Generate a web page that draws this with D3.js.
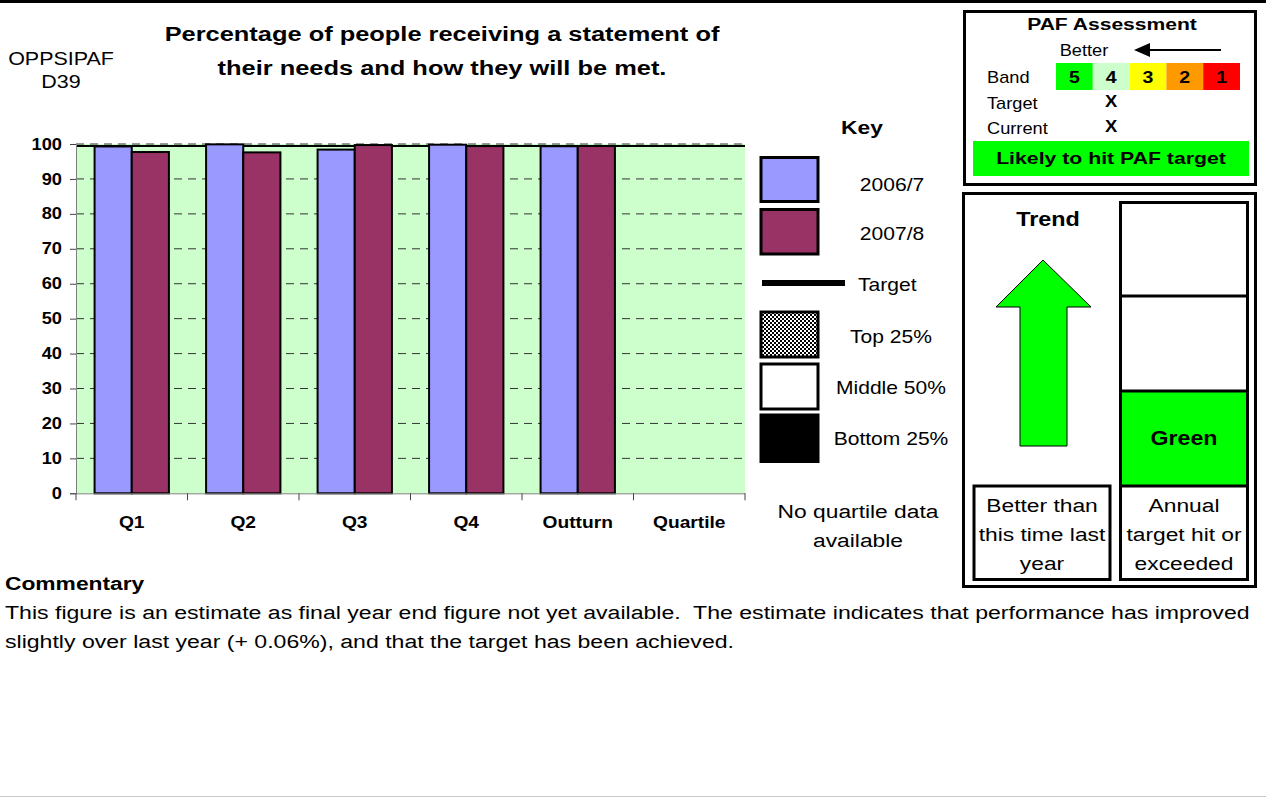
<!DOCTYPE html>
<html><head><meta charset="utf-8">
<script src="https://cdn.jsdelivr.net/npm/d3@7"></script>
<style>
body{margin:0;background:#fff;}
svg{display:block;font-family:"Liberation Sans",Arial,Helvetica,sans-serif;}
</style></head>
<body>
<svg id="c" width="1266" height="798"></svg>
<script>
const categories = ["Q1","Q2","Q3","Q4","Outturn","Quartile"];
const series = ["2006/7","2007/8"];
const values2006 = [99.3, 99.9, 98.4, 99.8, 99.36, null];
const values2007 = [97.7, 97.6, 99.7, 99.4, 99.42, null];
const targetValue = 99.4;
const yTicks = [0,10,20,30,40,50,60,70,80,90,100];
const seriesColors = ["#9999ff","#993366"];
const bandLabels = ["5","4","3","2","1"];
const bandColors = ["#00ff00","#ccffcc","#ffff00","#ff9900","#ff0000"];
const targetBand = "4";
const currentBand = "4";
const keyItems = ["2006/7","2007/8","Target","Top 25%","Middle 50%","Bottom 25%"];

const svg = d3.select("#c");
const defs = svg.append("defs");
const pat = defs.append("pattern").attr("id","checker").attr("width",4).attr("height",4).attr("patternUnits","userSpaceOnUse");
pat.append("rect").attr("width",4).attr("height",4).attr("fill","#fff");
pat.append("rect").attr("width",2).attr("height",2).attr("fill","#000");
pat.append("rect").attr("x",2).attr("y",2).attr("width",2).attr("height",2).attr("fill","#000");

// text helper: horizontally widened text anchored at (x,y)
function T(x, y, str, o={}){
  return svg.append("text")
    .attr("transform",`translate(${x},${y}) scale(${o.sx||1.2},1)`)
    .attr("text-anchor",o.anchor||"start")
    .attr("font-size",o.size||19)
    .attr("font-weight",o.bold?"bold":"normal")
    .attr("fill","#000")
    .text(str);
}

// page borders
svg.append("rect").attr("x",0).attr("y",0).attr("width",1266).attr("height",3).attr("fill","#000");
svg.append("line").attr("x1",0).attr("x2",1266).attr("y1",796.5).attr("y2",796.5).attr("stroke","#c8c8c8");

// titles
T(442,41,"Percentage of people receiving a statement of",{anchor:"middle",bold:true,size:20,sx:1.27});
T(442,75,"their needs and how they will be met.",{anchor:"middle",bold:true,size:20,sx:1.27});
T(61,65,"OPPSIPAF",{anchor:"middle",size:19,sx:1.13});
T(61,88,"D39",{anchor:"middle",size:19,sx:1.13});

// chart
const L=76, R=745, Tp=144, B=493.3;
const x0 = d3.scaleBand().domain(categories).range([L,R]).padding(0);
const x1 = d3.scaleBand().domain(series).range([0,x0.bandwidth()]).paddingInner(0).paddingOuter(0.5);
const y = d3.scaleLinear().domain([0,100]).range([B,Tp]);

svg.append("rect").attr("x",L).attr("y",Tp).attr("width",R-L).attr("height",B-Tp).attr("fill","#ccffcc");
svg.append("g").selectAll("line").data(yTicks.filter(d=>d>0)).join("line")
  .attr("x1",L).attr("x2",R).attr("y1",d=>y(d)).attr("y2",d=>y(d))
  .attr("stroke","#333").attr("stroke-width",1).attr("stroke-dasharray","8,6");
svg.append("line").attr("x1",L).attr("x2",R).attr("y1",y(targetValue)).attr("y2",y(targetValue))
  .attr("stroke","#000").attr("stroke-width",2);

const data = categories.map((c,i)=>({c, vals:[values2006[i],values2007[i]]}));
const g = svg.append("g");
data.forEach(d=>{
  d.vals.forEach((v,j)=>{
    if(v==null) return;
    g.append("rect").attr("x",x0(d.c)+x1(series[j])).attr("y",y(v))
      .attr("width",x1.bandwidth()).attr("height",y(0)-y(v))
      .attr("fill",seriesColors[j]).attr("stroke","#000").attr("stroke-width",2);
  });
});

const yAxis = svg.append("g").attr("transform",`translate(${L},0)`)
  .call(d3.axisLeft(y).tickValues(yTicks).tickSize(6).tickPadding(8));
yAxis.selectAll("text").attr("font-size",16).attr("font-weight","bold").attr("fill","#000")
  .attr("x",-14/1.14).attr("transform","scale(1.14,1)");
yAxis.selectAll("line").attr("stroke","#444");
yAxis.select(".domain").attr("stroke","#808080");

const xAxis = svg.append("g").attr("transform",`translate(0,${B})`)
  .call(d3.axisBottom(x0).tickSize(0).tickPadding(23));
xAxis.selectAll("text").attr("font-size",16).attr("font-weight","bold").attr("fill","#000").attr("transform","scale(1.2,1)");
xAxis.select(".domain").attr("stroke","#808080");
svg.append("g").selectAll("line").data(d3.range(categories.length+1)).join("line")
  .attr("x1",i=>L+i*x0.step()).attr("x2",i=>L+i*x0.step())
  .attr("y1",B).attr("y2",B+7).attr("stroke","#444");

// key
T(862,134,"Key",{anchor:"middle",bold:true,size:19});
const keyBoxes = [
  {y:157.5,h:44,fill:seriesColors[0]},
  {y:209.5,h:44.5,fill:seriesColors[1]},
  null,
  {y:312,h:45,fill:"url(#checker)"},
  {y:364,h:45,fill:"#fff"},
  {y:415,h:46.5,fill:"#000"}
];
keyBoxes.forEach(k=>{
  if(!k) return;
  svg.append("rect").attr("x",761).attr("y",k.y).attr("width",57).attr("height",k.h)
    .attr("fill",k.fill).attr("stroke","#000").attr("stroke-width",3);
});
svg.append("rect").attr("x",762).attr("y",280).attr("width",83).attr("height",6).attr("fill","#000");
const keyLabelPos = [[892,191,"middle"],[892,240,"middle"],[858,291,"start"],[891,343,"middle"],[891,394,"middle"],[891,445,"middle"]];
keyItems.forEach((t,i)=>T(keyLabelPos[i][0],keyLabelPos[i][1],t,{anchor:keyLabelPos[i][2],size:18,sx:1.17}));
T(858,518,"No quartile data",{anchor:"middle",size:19});
T(858,547,"available",{anchor:"middle",size:19});

// PAF box
svg.append("rect").attr("x",964.5).attr("y",11.5).attr("width",291).attr("height",173).attr("fill","#fff").attr("stroke","#000").attr("stroke-width",3);
T(1112,30,"PAF Assessment",{anchor:"middle",bold:true,size:17,sx:1.24});
T(1084,56,"Better",{anchor:"middle",size:16,sx:1.14});
svg.append("line").attr("x1",1146).attr("x2",1221).attr("y1",50).attr("y2",50).attr("stroke","#000").attr("stroke-width",2);
svg.append("path").attr("d","M1134,50 L1150,43 L1150,57 Z").attr("fill","#000");
T(987,83,"Band",{size:16,sx:1.14});
T(987,109,"Target",{size:16,sx:1.14});
T(987,134,"Current",{size:16,sx:1.14});
const bx = d3.scaleBand().domain(bandLabels).range([1056,1240]);
svg.append("g").selectAll("rect").data(bandLabels).join("rect")
  .attr("x",d=>bx(d)).attr("y",63).attr("width",bx.bandwidth()).attr("height",27).attr("fill",(d,i)=>bandColors[i]);
bandLabels.forEach(d=>T(bx(d)+bx.bandwidth()/2,83,d,{anchor:"middle",bold:true,size:17,sx:1.15}));
T(bx(targetBand)+bx.bandwidth()/2,107,"X",{anchor:"middle",bold:true,size:16,sx:1.15});
T(bx(currentBand)+bx.bandwidth()/2,132,"X",{anchor:"middle",bold:true,size:16,sx:1.15});
svg.append("rect").attr("x",973).attr("y",141).attr("width",276).attr("height",35).attr("fill","#00ff00");
T(1111,164,"Likely to hit PAF target",{anchor:"middle",bold:true,size:17,sx:1.25});

// Trend box
svg.append("rect").attr("x",963.5).attr("y",193.5).attr("width",292).attr("height",393).attr("fill","#fff").attr("stroke","#000").attr("stroke-width",3);
T(1048,226,"Trend",{anchor:"middle",bold:true,size:20,sx:1.17});
svg.append("path").attr("d","M1043,260 L1091,307 L1067,307 L1067,446 L1020,446 L1020,307 L996,307 Z")
  .attr("fill","#00ff00").attr("stroke","#000").attr("stroke-width",1);
svg.append("rect").attr("x",1120.5).attr("y",391).attr("width",127).attr("height",95).attr("fill","#00ff00");
svg.append("rect").attr("x",1120.5).attr("y",202.5).attr("width",127).attr("height",377).attr("fill","none").attr("stroke","#000").attr("stroke-width",3);
[296,391,486].forEach(yy=>svg.append("line").attr("x1",1120).attr("x2",1248).attr("y1",yy).attr("y2",yy).attr("stroke","#000").attr("stroke-width",3));
svg.append("rect").attr("x",974).attr("y",486).attr("width",136).attr("height",93.5).attr("fill","none").attr("stroke","#000").attr("stroke-width",3);
T(1184,445,"Green",{anchor:"middle",bold:true,size:20,sx:1.16});
["Better than","this time last","year"].forEach((s,i)=>T(1042,512+i*29,s,{anchor:"middle",size:19}));
["Annual","target hit or","exceeded"].forEach((s,i)=>T(1184,512+i*29,s,{anchor:"middle",size:19}));

// commentary
T(5,590,"Commentary",{bold:true,size:19});
T(5,619,"This figure is an estimate as final year end figure not yet available.  The estimate indicates that performance has improved",{size:19,sx:1.215}).style("white-space","pre");
T(5,648,"slightly over last year (+ 0.06%), and that the target has been achieved.",{size:19,sx:1.215});
</script>
</body></html>
